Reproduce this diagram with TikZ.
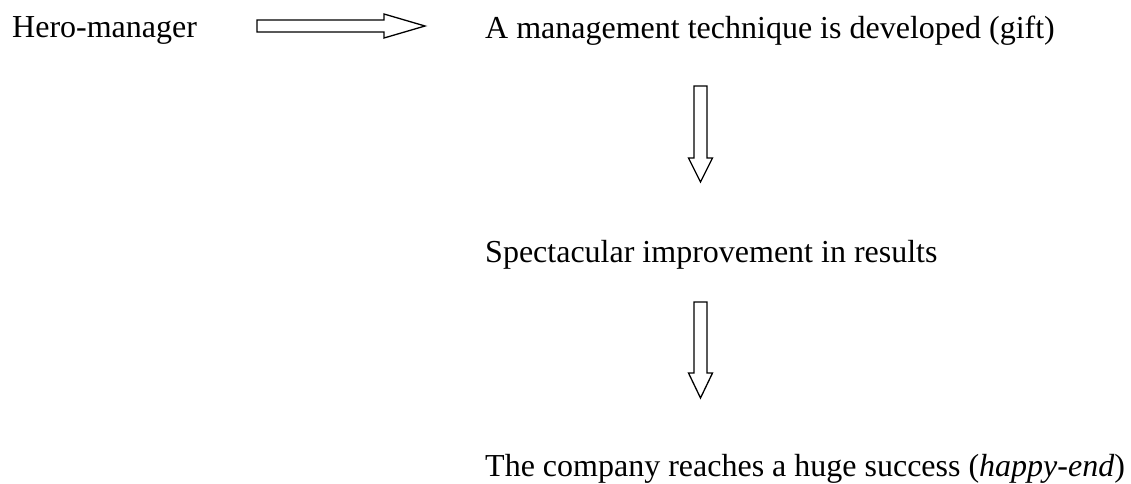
\documentclass[tikz,border=0pt]{standalone}
\usepackage{fontspec}
\setmainfont{Liberation Serif}
\usetikzlibrary{calc}
\begin{document}
\begin{tikzpicture}[x=1pt,y=-1pt,
  label/.style={anchor=base west,inner sep=0pt,font=\fontsize{32}{38}\selectfont},
  hollow/.style={draw=black,line width=1.3pt,line join=miter,fill=white}]
\useasboundingbox (0,0) rectangle (1131,483);

\node[label] (hero) at (12,37) {Hero-manager};
\node[label] (gift) at (485,38) {A management technique is developed (gift)};
\node[label] (impr) at (485,262) {Spectacular improvement in results};
\node[label] (succ) at (485,476) {The company reaches a huge success (\textit{happy-end})};

% horizontal block arrow
\coordinate (h0) at (257,26);
\coordinate (h1) at (425,26);
\draw[hollow] ($(h0)+(0,-6)$) -- ($(h1)+(-41,-6)$) -- ($(h1)+(-41,-12)$) -- (h1)
  -- ($(h1)+(-41,12)$) -- ($(h1)+(-41,6)$) -- ($(h0)+(0,6)$) -- cycle;

% first vertical block arrow
\coordinate (v0) at (700.5,86);
\coordinate (v1) at (700.5,182);
\draw[hollow] ($(v0)+(-6.5,0)$) -- ($(v1)+(-6.5,-24)$) -- ($(v1)+(-12,-24)$) -- (v1)
  -- ($(v1)+(12,-24)$) -- ($(v1)+(6.5,-24)$) -- ($(v0)+(6.5,0)$) -- cycle;

% second vertical block arrow
\coordinate (w0) at (700.5,302);
\coordinate (w1) at (700.5,398);
\draw[hollow] ($(w0)+(-6.5,0)$) -- ($(w1)+(-6.5,-25)$) -- ($(w1)+(-12,-25)$) -- (w1)
  -- ($(w1)+(12,-25)$) -- ($(w1)+(6.5,-25)$) -- ($(w0)+(6.5,0)$) -- cycle;
\end{tikzpicture}
\end{document}
